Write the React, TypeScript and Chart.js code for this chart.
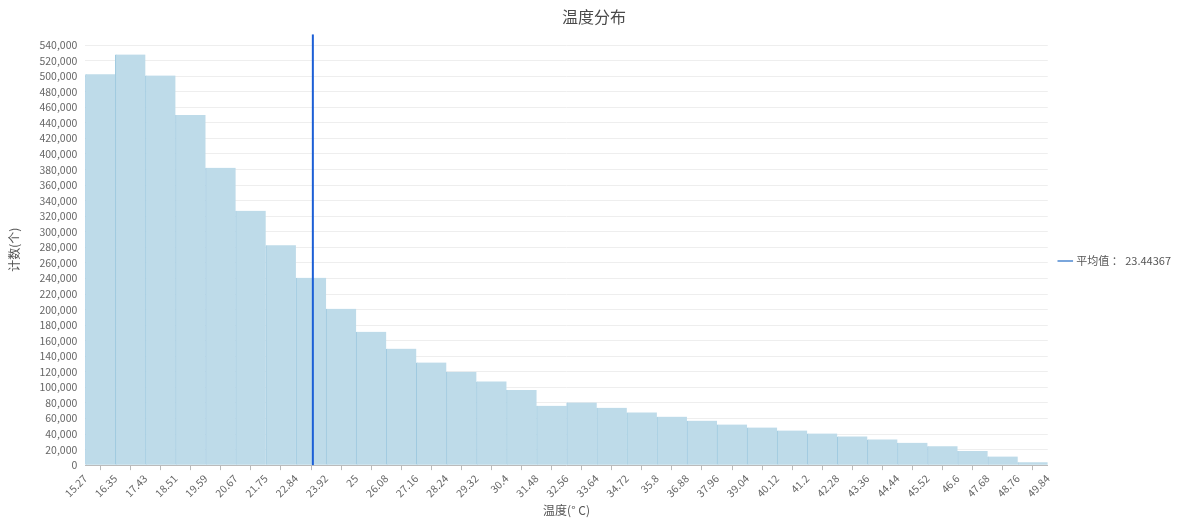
import React, { useEffect, useRef } from 'react';
import { Chart, registerables } from 'chart.js';

Chart.register(...registerables);

// bin edges shown on the x axis (°C)
const binEdges = [
    15.27, 16.35, 17.43, 18.51, 19.59, 20.67, 21.75, 22.84, 23.92, 25, 26.08,
    27.16, 28.24, 29.32, 30.4, 31.48, 32.56, 33.64, 34.72, 35.8, 36.88, 37.96,
    39.04, 40.12, 41.2, 42.28, 43.36, 44.44, 45.52, 46.6, 47.68, 48.76, 49.84
];

// count per bin
const binCounts = [
    502600, 527800, 500900, 450000, 382200, 326900, 282600, 240900, 200900,
    171400, 149700, 131800, 120000, 107600, 96600, 76300, 80500, 73700, 67800,
    62300, 57200, 52100, 48300, 44500, 40700, 36900, 33100, 28800, 24200,
    18200, 11000, 3800
];

// y tick values (0 .. 540,000 every 20,000)
const yTicks = [
    0, 20000, 40000, 60000, 80000, 100000, 120000, 140000, 160000, 180000,
    200000, 220000, 240000, 260000, 280000, 300000, 320000, 340000, 360000,
    380000, 400000, 420000, 440000, 460000, 480000, 500000, 520000, 540000
];

const meanTemp = 23.44367;
const yAxisMax = 554000;

const fontFamily = "'Noto Sans CJK SC', 'Noto Sans', sans-serif";

export default function App() {
    const canvasRef = useRef<HTMLCanvasElement>(null);
    const chartRef = useRef<Chart | null>(null);

    useEffect(() => {
        if (!canvasRef.current) return;
        if (chartRef.current) chartRef.current.destroy();

        const ctx = canvasRef.current.getContext('2d');
        if (!ctx) return;

        const bars = binCounts.map((count, i) => ({
            x: (binEdges[i] + binEdges[i + 1]) / 2,
            y: count
        }));

        chartRef.current = new Chart(ctx, {
            type: 'bar',
            data: {
                datasets: [
                    {
                        type: 'bar',
                        label: '计数',
                        data: bars,
                        backgroundColor: 'rgba(190, 219, 233, 1)',
                        borderColor: 'rgba(160, 202, 224, 1)',
                        borderWidth: { left: 1, right: 0, top: 0, bottom: 0 },
                        borderSkipped: false,
                        barPercentage: 1,
                        categoryPercentage: 1,
                        order: 2
                    },
                    {
                        type: 'line',
                        label: `平均值 ： ${meanTemp}`,
                        data: [
                            { x: meanTemp, y: 0 },
                            { x: meanTemp, y: yAxisMax }
                        ],
                        borderColor: '#1c5fd6',
                        backgroundColor: '#1c5fd6',
                        borderWidth: 2,
                        pointRadius: 0,
                        order: 1
                    } as any
                ]
            },
            options: {
                animation: false,
                responsive: true,
                maintainAspectRatio: false,
                layout: { padding: { left: 7, right: 4, top: 4, bottom: 11 } },
                plugins: {
                    title: {
                        display: true,
                        text: '温度分布',
                        color: '#4a4a4a',
                        font: { family: fontFamily, size: 16, weight: 'normal' },
                        padding: { top: 3, bottom: 8 }
                    },
                    legend: {
                        display: true,
                        position: 'right',
                        labels: {
                            filter: (item) => item.datasetIndex === 1,
                            generateLabels: (chart) => {
                                const items = Chart.defaults.plugins.legend.labels.generateLabels(chart);
                                return items.map((it) => ({ ...it, strokeStyle: '#7aa6dc', lineWidth: 2 }));
                            },
                            usePointStyle: true,
                            pointStyle: 'line',
                            boxWidth: 12,
                            color: '#555',
                            font: { family: fontFamily, size: 11 },
                            padding: 12
                        }
                    },
                    tooltip: { enabled: false }
                },
                scales: {
                    x: {
                        type: 'linear',
                        min: binEdges[0],
                        max: binEdges[binEdges.length - 1],
                        offset: false,
                        afterBuildTicks: (axis) => {
                            axis.ticks = binEdges.map((v) => ({ value: v }));
                        },
                        ticks: {
                            autoSkip: false,
                            maxRotation: 45,
                            minRotation: 45,
                            color: '#666',
                            font: { family: fontFamily, size: 10.5 },
                            padding: 2,
                            callback: (value) => String(value)
                        },
                        grid: {
                            drawOnChartArea: false,
                            drawTicks: true,
                            tickLength: 5,
                            color: '#bbb'
                        },
                        border: { color: '#bbb' },
                        title: {
                            display: true,
                            text: '温度(° C)',
                            color: '#555',
                            font: { family: fontFamily, size: 12 },
                            padding: { top: 2, bottom: 0 }
                        }
                    },
                    y: {
                        min: 0,
                        max: yAxisMax,
                        afterBuildTicks: (axis) => {
                            axis.ticks = yTicks.map((v) => ({ value: v }));
                        },
                        ticks: {
                            color: '#666',
                            font: { family: fontFamily, size: 10.5 },
                            padding: 8,
                            callback: (value) => Number(value).toLocaleString('en-US')
                        },
                        grid: {
                            color: '#eeeeee',
                            drawTicks: false
                        },
                        border: { display: false },
                        title: {
                            display: true,
                            text: '计数(个)',
                            color: '#555',
                            font: { family: fontFamily, size: 12 },
                            padding: { top: 0, bottom: 10 }
                        }
                    }
                }
            }
        });

        return () => {
            if (chartRef.current) {
                chartRef.current.destroy();
                chartRef.current = null;
            }
        };
    }, []);

    return (
        <div style={{ position: 'absolute', left: 0, top: 0, width: 1185, height: 529, background: '#fff' }}>
            <canvas ref={canvasRef} />
        </div>
    );
}
